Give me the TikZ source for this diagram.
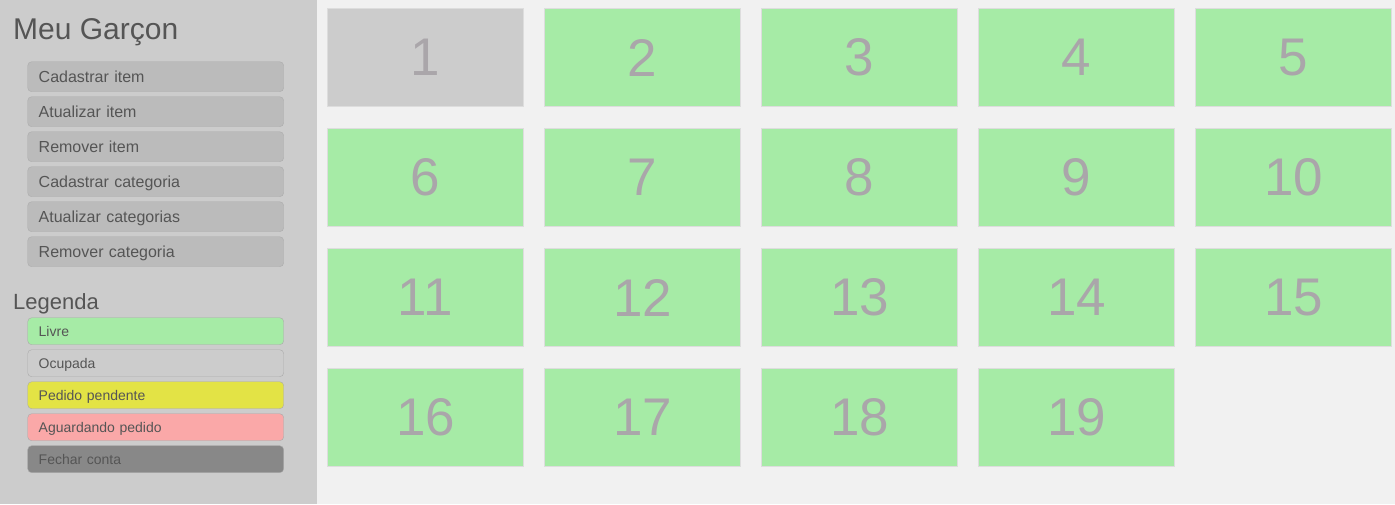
\documentclass[tikz,border=0pt]{standalone}
\usepackage{fontspec}
\setmainfont{Liberation Sans}
\usepackage{xcolor}
\usepackage{tikz}
\definecolor{mainbg}{HTML}{F1F1F1}
\definecolor{sidebg}{HTML}{CCCCCC}
\definecolor{btnfill}{HTML}{BBBBBB}
\definecolor{btnline}{HTML}{ADADAD}
\definecolor{legline}{HTML}{AAAAAA}
\definecolor{txtgray}{HTML}{555555}
\definecolor{livre}{HTML}{A6EBA6}
\definecolor{ocupada}{HTML}{CCCCCC}
\definecolor{pendente}{HTML}{E3E345}
\definecolor{aguardando}{HTML}{FAA8A8}
\definecolor{fechar}{HTML}{888888}
\definecolor{tileline}{HTML}{DDDDDD}
\definecolor{numgray}{HTML}{AAA6AA}

\begin{document}
\begin{tikzpicture}
	[x=1pt,y=-1pt,
	menubtn/.style={draw=btnline,fill=btnfill,rounded corners=4pt,anchor=north west,
		minimum height=30pt,text width=234pt,inner xsep=11pt,inner ysep=0pt,align=left,
		text height=11.5pt,text depth=0pt,text=txtgray,font=\fontsize{16}{18}\selectfont},
	legitem/.style={menubtn,draw=legline,minimum height=27pt,text height=10pt,
		font=\fontsize{14}{16}\selectfont},
	mesa/.style={draw=tileline,minimum width=196pt,minimum height=98pt,inner sep=0pt,
		text=numgray,font=\fontsize{53}{60}\selectfont},
	titulo/.style={anchor=base west,inner sep=0pt,text=txtgray}]
	\useasboundingbox (0,0) rectangle (1395,504);
	\fill[mainbg] (0,0) rectangle (1395,504);
	\fill[sidebg] (0,0) rectangle (317,504);
	\node[titulo,font=\fontsize{30}{34}\selectfont] (title) at (13,39) {Meu Garçon};
	\foreach \t [count=\i from 0] in {Cadastrar item, Atualizar item, Remover item,
		Cadastrar categoria, Atualizar categorias, Remover categoria}
		\node[menubtn] (btn\i) at (27.5,{61.5+35*\i}) {\t};
	\node[titulo,font=\fontsize{22}{26}\selectfont] (legenda) at (13,309) {Legenda};
	\foreach \t/\c [count=\i from 0] in {Livre/livre, Ocupada/ocupada,
		Pedido pendente/pendente, Aguardando pedido/aguardando, Fechar conta/fechar}
		\node[legitem,fill=\c] (leg\i) at (27.5,{317.5+32*\i}) {\t};
	\foreach \n in {1,...,19} {
		\pgfmathtruncatemacro\col{mod(\n-1,5)}
		\pgfmathtruncatemacro\row{div(\n-1,5)}
		\ifnum\n=1 \def\cor{ocupada}\else\def\cor{livre}\fi
		\node[mesa,fill=\cor] (mesa\n) at ({425.5+217*\col},{57.5+120*\row}) {\n};
	}
\end{tikzpicture}
\end{document}
